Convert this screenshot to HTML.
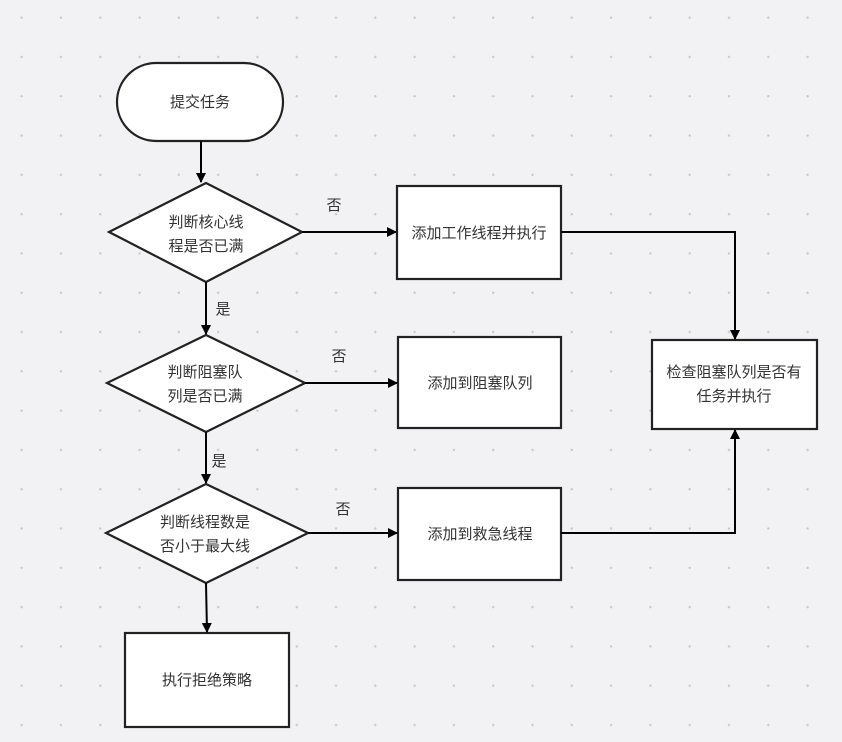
<!DOCTYPE html>
<html><head><meta charset="utf-8"><style>
html,body{margin:0;padding:0;}
body{width:842px;height:742px;overflow:hidden;background:#f2f2f4;
background-image:radial-gradient(circle,#c8c8cc 1px,transparent 1.3px);background-size:39.3px 39.3px;background-position:2px -2px;}
svg{position:absolute;left:0;top:0;}
text{font-family:"Liberation Sans","Noto Sans CJK SC",sans-serif;font-size:15px;fill:#333;text-anchor:middle;}
</style></head><body>
<svg width="842" height="742" viewBox="0 0 842 742">
<defs><marker id="a" markerWidth="10" markerHeight="10" refX="9" refY="5" orient="auto" markerUnits="userSpaceOnUse"><path d="M0,0 L10,5 L0,10z" fill="#000"/></marker></defs>
<g fill="#fff" stroke="#222" stroke-width="2.2">
<rect x="117" y="63" width="166" height="78" rx="39"/>
<polygon points="109,232 206,183 302,232 206,282"/>
<rect x="397" y="186" width="164" height="93"/>
<polygon points="107,383 206,335 305,383 206,432"/>
<rect x="398" y="337" width="163" height="91"/>
<rect x="652" y="340" width="165" height="89"/>
<polygon points="106,533 206,484 308,533 206,583"/>
<rect x="398" y="488" width="163" height="92"/>
<rect x="125" y="633" width="164" height="94"/>
</g>
<g fill="none" stroke="#000" stroke-width="2" marker-end="url(#a)">
<path d="M201,141 V182"/>
<path d="M302,232 H396"/>
<path d="M206,282 V334"/>
<path d="M305,383 H397"/>
<path d="M206,432 V483"/>
<path d="M308,533 H397"/>
<path d="M206,583 L207,632"/>
<path d="M561,232 H735 V339"/>
<path d="M561,533 H735 V430"/>
</g>
<text x="200" y="107">提交任务</text>
<text x="206" y="227">判断核心线</text><text x="206" y="251">程是否已满</text>
<text x="479" y="238">添加工作线程并执行</text>
<text x="205" y="377">判断阻塞队</text><text x="205" y="401">列是否已满</text>
<text x="480" y="388">添加到阻塞队列</text>
<text x="734" y="377">检查阻塞队列是否有</text><text x="734" y="401">任务并执行</text>
<text x="205" y="527">判断线程数是</text><text x="205" y="551">否小于最大线</text>
<text x="480" y="539">添加到救急线程</text>
<text x="207" y="685">执行拒绝策略</text>
<text x="334" y="210">否</text>
<text x="223" y="314">是</text>
<text x="339" y="361">否</text>
<text x="219" y="466">是</text>
<text x="343" y="514">否</text>
</svg>
</body></html>
